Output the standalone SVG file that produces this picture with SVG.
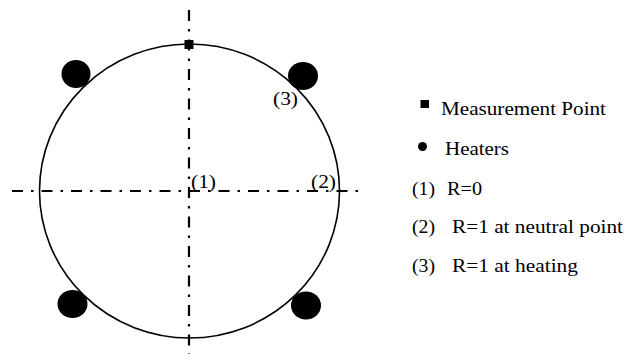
<svg xmlns="http://www.w3.org/2000/svg" width="624" height="354" viewBox="0 0 624 354">
<style>
.axis{stroke:#000;stroke-width:2.2;fill:none;stroke-dasharray:11 8 2.5 8}
.ring{stroke:#000;stroke-width:1.6;fill:none}
.heater{fill:#000}
.t{font-family:'Liberation Serif','Times New Roman','DejaVu Serif',serif;font-size:19px;fill:#000}
</style>
<rect width="624" height="354" fill="#fff"/>
<g id="connectors">
<line class="axis" x1="189" y1="10" x2="189" y2="354"/>
<line class="axis" x1="12" y1="191" x2="358" y2="191"/>
</g>
<g id="ring"><ellipse class="ring" cx="189.5" cy="191" rx="150" ry="147"/></g>
<g id="measurement-point"><rect x="184.5" y="40" width="9" height="9" fill="#000"/></g>
<g id="heater-tl"><ellipse class="heater" cx="76" cy="74" rx="14.5" ry="14"/></g>
<g id="heater-tr"><ellipse class="heater" cx="303" cy="76" rx="15" ry="14"/></g>
<g id="heater-bl"><ellipse class="heater" cx="72.5" cy="304" rx="15" ry="14"/></g>
<g id="heater-br"><ellipse class="heater" cx="306" cy="305.5" rx="15" ry="14"/></g>
<g id="label-1"><text class="t" x="191" y="188" textLength="25" lengthAdjust="spacingAndGlyphs">(1)</text></g>
<g id="label-2"><text class="t" x="311" y="188" textLength="25" lengthAdjust="spacingAndGlyphs">(2)</text></g>
<g id="label-3"><text class="t" x="273" y="105" textLength="25" lengthAdjust="spacingAndGlyphs">(3)</text></g>
<g id="legend">
<rect x="420.5" y="100" width="8.5" height="8" fill="#000"/>
<text class="t" x="441" y="115" textLength="165" lengthAdjust="spacingAndGlyphs">Measurement Point</text>
<circle cx="422.5" cy="146.5" r="4.5" fill="#000"/>
<text class="t" x="445" y="155" textLength="64" lengthAdjust="spacingAndGlyphs">Heaters</text>
<text class="t" x="412" y="195" textLength="23" lengthAdjust="spacingAndGlyphs">(1)</text>
<text class="t" x="447" y="195" textLength="35" lengthAdjust="spacingAndGlyphs">R=0</text>
<text class="t" x="412" y="233" textLength="23" lengthAdjust="spacingAndGlyphs">(2)</text>
<text class="t" x="452" y="233" textLength="171" lengthAdjust="spacingAndGlyphs">R=1 at neutral point</text>
<text class="t" x="412" y="272" textLength="23" lengthAdjust="spacingAndGlyphs">(3)</text>
<text class="t" x="452" y="272" textLength="126" lengthAdjust="spacingAndGlyphs">R=1 at heating</text>
</g>
</svg>
